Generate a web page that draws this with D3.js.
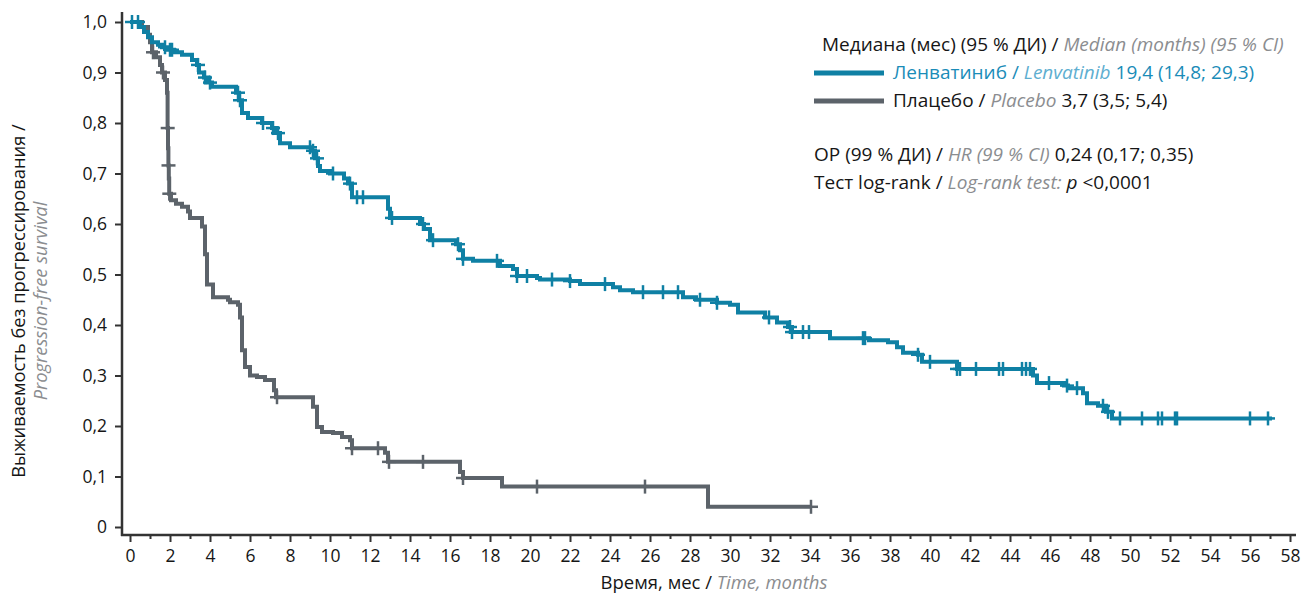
<!DOCTYPE html>
<html>
<head>
<meta charset="utf-8">
<script src="https://cdn.jsdelivr.net/npm/d3@7"></script>
<style>
  body { margin: 0; background: #fff; }
  text { font-family: "Open Sans", "Noto Sans", sans-serif; }
</style>
</head>
<body>
<div id="chart"></div>
<script>
// step points: [month, survival after this month]
var lenvaSteps = [[0,1],[0.5,0.99],[0.7,0.98],[0.9,0.97],[1.1,0.96],[1.4,0.955],[1.6,0.95],[1.9,0.945],
  [2.2,0.94],[2.6,0.935],[3.1,0.925],[3.35,0.915],[3.45,0.9],[3.7,0.89],[3.9,0.88],[4.1,0.872],
  [5.3,0.86],[5.45,0.845],[5.6,0.82],[5.9,0.81],[6.6,0.8],[7.1,0.79],[7.3,0.78],[7.5,0.76],
  [8.0,0.752],[9.1,0.745],[9.25,0.73],[9.4,0.715],[9.5,0.705],[10.0,0.7],[10.7,0.69],[10.9,0.68],
  [11.1,0.653],[12.9,0.63],[13.0,0.612],[14.5,0.6],[14.7,0.59],[15.0,0.568],[16.3,0.56],[16.5,0.548],
  [16.65,0.531],[17.15,0.527],[18.5,0.517],[19.15,0.511],[19.35,0.497],[20.35,0.493],[20.5,0.49],
  [22.0,0.487],[22.5,0.481],[24.15,0.475],[24.5,0.469],[25.15,0.465],[27.65,0.455],[28.3,0.45],
  [29.35,0.444],[30.0,0.44],[30.4,0.425],[31.75,0.415],[32.35,0.405],[32.9,0.396],[33.1,0.386],
  [35.0,0.374],[36.95,0.37],[37.9,0.366],[38.35,0.356],[38.65,0.345],[39.4,0.341],[39.6,0.327],
  [41.35,0.313],[45.15,0.3],[45.35,0.285],[46.7,0.28],[46.9,0.275],[47.65,0.265],[47.85,0.245],
  [48.4,0.24],[48.8,0.228],[49.1,0.215]];
var lenvaEnd = 57.1;
var lenvaCensor = [0.1,0.4,1.75,2.0,2.1,3.4,3.75,4.0,5.4,5.5,6.65,7.15,7.4,9.0,9.15,9.35,10.15,11.0,
  11.35,11.65,13.1,14.65,15.15,16.4,16.65,18.35,19.35,19.85,21.1,22.0,23.75,25.65,26.65,27.4,28.5,
  29.35,31.95,33.0,33.1,33.65,33.95,36.65,36.75,39.4,40.0,41.35,41.5,42.3,43.45,43.65,44.6,44.8,
  45.0,45.95,46.85,47.35,48.65,48.9,49.5,50.6,51.4,51.6,52.25,52.35,56.0,56.9];

var placeboSteps = [[0,1],[0.6,0.99],[0.9,0.975],[1.0,0.96],[1.1,0.94],[1.3,0.93],[1.5,0.915],[1.6,0.9],
  [1.75,0.885],[1.85,0.86],[1.88,0.79],[1.9,0.75],[1.92,0.716],[1.94,0.69],[1.96,0.66],[2.05,0.647],
  [2.3,0.64],[2.6,0.634],[2.9,0.625],[3.0,0.612],[3.6,0.595],[3.75,0.54],[3.85,0.48],[4.15,0.455],
  [4.9,0.45],[5.0,0.445],[5.4,0.44],[5.5,0.415],[5.6,0.35],[5.75,0.317],[6.0,0.3],[6.35,0.297],
  [6.75,0.291],[7.2,0.271],[7.3,0.257],[9.15,0.238],[9.35,0.198],[9.6,0.188],[10.15,0.186],
  [10.6,0.178],[11.0,0.172],[11.1,0.156],[12.75,0.147],[12.9,0.129],[16.5,0.109],[16.65,0.097],
  [18.6,0.08],[28.9,0.04]];
var placeboEnd = 34.05;
var placeboCensor = [1.15,1.65,1.885,1.925,1.965,7.35,11.1,12.4,12.95,14.65,16.65,20.35,25.75,34.05];

var xTicks = d3.range(0, 59, 2);
var xMinor = d3.range(1, 58, 2);
var yTicks = [0,0.1,0.2,0.3,0.4,0.5,0.6,0.7,0.8,0.9,1.0];
var yMinor = d3.range(0, 1.001, 0.02);

var width = 1302;
var height = 597;
var teal = '#0f80a4';
var grey = '#5c636a';
var lightText = '#8b8d90';
var dark = '#161616';

var svg = d3.select('#chart').append('svg').attr('width', width).attr('height', height);

var x = d3.scaleLinear().domain([0, 58]).range([130, 1290]);
var y = d3.scaleLinear().domain([0, 1]).range([527, 22]);

function fmt(v){
    if (v === 0) return '0';
    return d3.format('.1f')(v).replace('.', ',');
}

// axes
var axisX = 122, axisY = 535;

var yAxisG = svg.append('g').attr('transform', 'translate(' + axisX + ',0)');
yAxisG.call(d3.axisLeft(y).tickValues(yMinor).tickSize(4).tickFormat(''))
yAxisG.call(d3.axisLeft(y).tickValues(yTicks).tickSize(7).tickFormat(fmt).tickPadding(8));
yAxisG.selectAll('.domain').remove();
yAxisG.selectAll('line').attr('stroke', '#333').attr('stroke-width', 2);
yAxisG.selectAll('text').attr('font-size', 17.5).attr('fill', dark);

var xAxisG = svg.append('g').attr('transform', 'translate(0,' + axisY + ')');
xAxisG.append('g').call(d3.axisBottom(x).tickValues(xMinor).tickSize(4).tickFormat(''));
xAxisG.append('g').call(d3.axisBottom(x).tickValues(xTicks).tickSize(7).tickPadding(8));
xAxisG.selectAll('.domain').remove();
xAxisG.selectAll('line').attr('stroke', '#333').attr('stroke-width', 2);
xAxisG.selectAll('text').attr('font-size', 17.5).attr('fill', dark);

svg.append('line').attr('x1', axisX).attr('y1', 12).attr('x2', axisX).attr('y2', axisY + 1)
    .attr('stroke', '#333').attr('stroke-width', 2.5);
svg.append('line').attr('x1', axisX - 1).attr('y1', axisY).attr('x2', 1296).attr('y2', axisY)
    .attr('stroke', '#333').attr('stroke-width', 2.5);

// axis titles
var yTitle = svg.append('g').attr('transform', 'translate(25,301) rotate(-90)');
yTitle.append('text').attr('text-anchor', 'middle').attr('font-size', 18.3).attr('fill', dark)
    .text('Выживаемость без прогрессирования /');
yTitle.append('text').attr('y', 22).attr('text-anchor', 'middle').attr('font-size', 18.3)
    .attr('font-style', 'italic').attr('fill', lightText).text('Progression-free survival');

var xTitle = svg.append('text').attr('x', 714).attr('y', 589).attr('text-anchor', 'middle').attr('font-size', 18.5);
xTitle.append('tspan').attr('fill', dark).text('Время, мес / ');
xTitle.append('tspan').attr('fill', lightText).attr('font-style', 'italic').text('Time, months');

// curves
function survAt(steps, t){
    var s = 1;
    for (var i = 0; i < steps.length; i++){
        if (steps[i][0] <= t) s = steps[i][1];
    }
    return s;
}

var line = d3.line()
    .x(function(d){ return x(d[0]); })
    .y(function(d){ return y(d[1]); })
    .curve(d3.curveStepAfter);

function drawCurve(steps, end, censor, colour){
    var pts = steps.concat([[end, steps[steps.length - 1][1]]]);
    var g = svg.append('g');
    g.append('path').datum(pts).attr('d', line)
        .attr('fill', 'none').attr('stroke', colour).attr('stroke-width', 4)
        .attr('stroke-linejoin', 'miter');
    var marks = g.selectAll('.cens').data(censor).enter().append('g')
        .attr('transform', function(d){
            return 'translate(' + x(d) + ',' + y(survAt(steps, d)) + ')';
        });
    marks.append('line').attr('x1', 0).attr('x2', 0).attr('y1', -7).attr('y2', 7)
        .attr('stroke', colour).attr('stroke-width', 2.5);
    marks.append('line').attr('x1', -7).attr('x2', 7).attr('y1', 0).attr('y2', 0)
        .attr('stroke', colour).attr('stroke-width', 2.5);
}

drawCurve(placeboSteps, placeboEnd, placeboCensor, grey);
drawCurve(lenvaSteps, lenvaEnd, lenvaCensor, teal);

// legend
var leg = svg.append('g').attr('font-size', 19);
var t1 = leg.append('text').attr('x', 822).attr('y', 51);
t1.append('tspan').attr('fill', dark).text('Медиана (мес) (95 % ДИ) / ');
t1.append('tspan').attr('fill', lightText).attr('font-style', 'italic').text('Median (months) (95 % CI)');

leg.append('line').attr('x1', 814).attr('x2', 884).attr('y1', 73).attr('y2', 73)
    .attr('stroke', teal).attr('stroke-width', 5);
var t2 = leg.append('text').attr('x', 893).attr('y', 79);
t2.append('tspan').attr('fill', '#1a8cb8').text('Ленватиниб / ');
t2.append('tspan').attr('fill', '#5eaed0').attr('font-style', 'italic').text('Lenvatinib');
t2.append('tspan').attr('fill', '#1a8cb8').text(' 19,4 (14,8; 29,3)');

leg.append('line').attr('x1', 814).attr('x2', 884).attr('y1', 101).attr('y2', 101)
    .attr('stroke', grey).attr('stroke-width', 5);
var t3 = leg.append('text').attr('x', 893).attr('y', 107);
t3.append('tspan').attr('fill', dark).text('Плацебо / ');
t3.append('tspan').attr('fill', lightText).attr('font-style', 'italic').text('Placebo');
t3.append('tspan').attr('fill', dark).text(' 3,7 (3,5; 5,4)');

var t4 = leg.append('text').attr('x', 814).attr('y', 161);
t4.append('tspan').attr('fill', dark).text('ОР (99 % ДИ) / ');
t4.append('tspan').attr('fill', lightText).attr('font-style', 'italic').text('HR (99 % CI)');
t4.append('tspan').attr('fill', dark).text(' 0,24 (0,17; 0,35)');

var t5 = leg.append('text').attr('x', 814).attr('y', 189);
t5.append('tspan').attr('fill', dark).text('Тест log-rank / ');
t5.append('tspan').attr('fill', lightText).attr('font-style', 'italic').text('Log-rank test:');
t5.append('tspan').attr('fill', dark).attr('font-style', 'italic').text(' p');
t5.append('tspan').attr('fill', dark).text(' <0,0001');
</script>
</body>
</html>
